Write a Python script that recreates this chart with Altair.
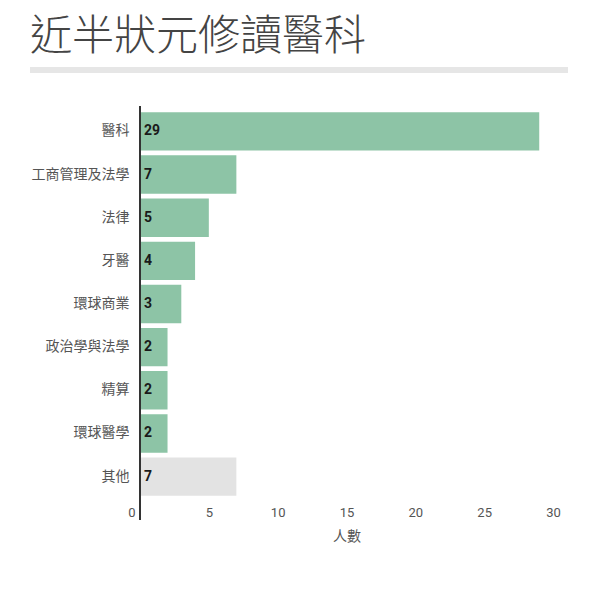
import pandas as pd
import altair as alt

majors = ["醫科", "工商管理及法學", "法律", "牙醫", "環球商業", "政治學與法學", "精算", "環球醫學", "其他"]
counts = [29, 7, 5, 4, 3, 2, 2, 2, 7]
groups = ["main"] * 8 + ["other"]

df = pd.DataFrame({"major": majors, "count": counts, "group": groups})

W, H = 413, 388
font = "Noto Sans CJK TC"

y_enc = alt.Y(
    "major:N",
    sort=majors,
    title=None,
    scale=alt.Scale(paddingInner=0.11, paddingOuter=0.05),
    axis=alt.Axis(
        domain=False, ticks=False, labelPadding=11, labelFontSize=14,
        labelColor="#555555", labelFont=font,
    ),
)

bars = alt.Chart(df).mark_bar().encode(
    x=alt.X(
        "count:Q",
        title="人數",
        scale=alt.Scale(domain=[0, 30]),
        axis=alt.Axis(
            values=[0, 5, 10, 15, 20, 25, 30], grid=False, domain=False, ticks=False,
            labelFontSize=13, labelColor="#555555", labelFont="Roboto", labelPadding=8,
            labelAlign={"condition": {"test": "datum.value == 0", "value": "right"}, "value": "center"},
            labelOffset={"condition": {"test": "datum.value == 0", "value": -5}, "value": 0},
            titleFontSize=14, titleFontWeight="normal", titleColor="#555555",
            titleFont=font, titlePadding=10,
        ),
    ),
    y=y_enc,
    color=alt.Color(
        "group:N",
        scale=alt.Scale(domain=["main", "other"], range=["#8dc4a6", "#e3e3e3"]),
        legend=None,
    ),
)

labels = alt.Chart(df).mark_text(
    align="left", dx=4, fontSize=14, fontWeight="bold", color="#1a1a1a", font="Roboto"
).encode(
    x=alt.datum(0),
    y=y_enc,
    text="count:Q",
)

# vertical axis line reaching below the plot
zero_line = alt.Chart(df).mark_rule(color="#333333", strokeWidth=2).encode(
    x=alt.datum(0),
    y=alt.value(-4),
    y2=alt.value(H + 22),
)

# grey divider under the title
divider = alt.Chart(df).mark_rule(color="#e6e6e6", strokeWidth=5).encode(
    x=alt.value(-110),
    x2=alt.value(428),
    y=alt.value(-40),
)

chart = (bars + labels + zero_line + divider).properties(
    width=W,
    height=H,
    autosize=alt.AutoSizeParams(type="none"),
    padding={"left": 132, "top": 102, "right": 30, "bottom": 70},
    title=alt.TitleParams(
        "近半狀元修讀醫科",
        anchor="start",
        frame="group",
        dx=-110,
        offset=9,
        fontSize=42,
        fontWeight=300,
        color="#444444",
        font=font,
    ),
).configure_view(stroke=None)

chart.save("out.html", embed_options={"renderer": "svg", "actions": False})
